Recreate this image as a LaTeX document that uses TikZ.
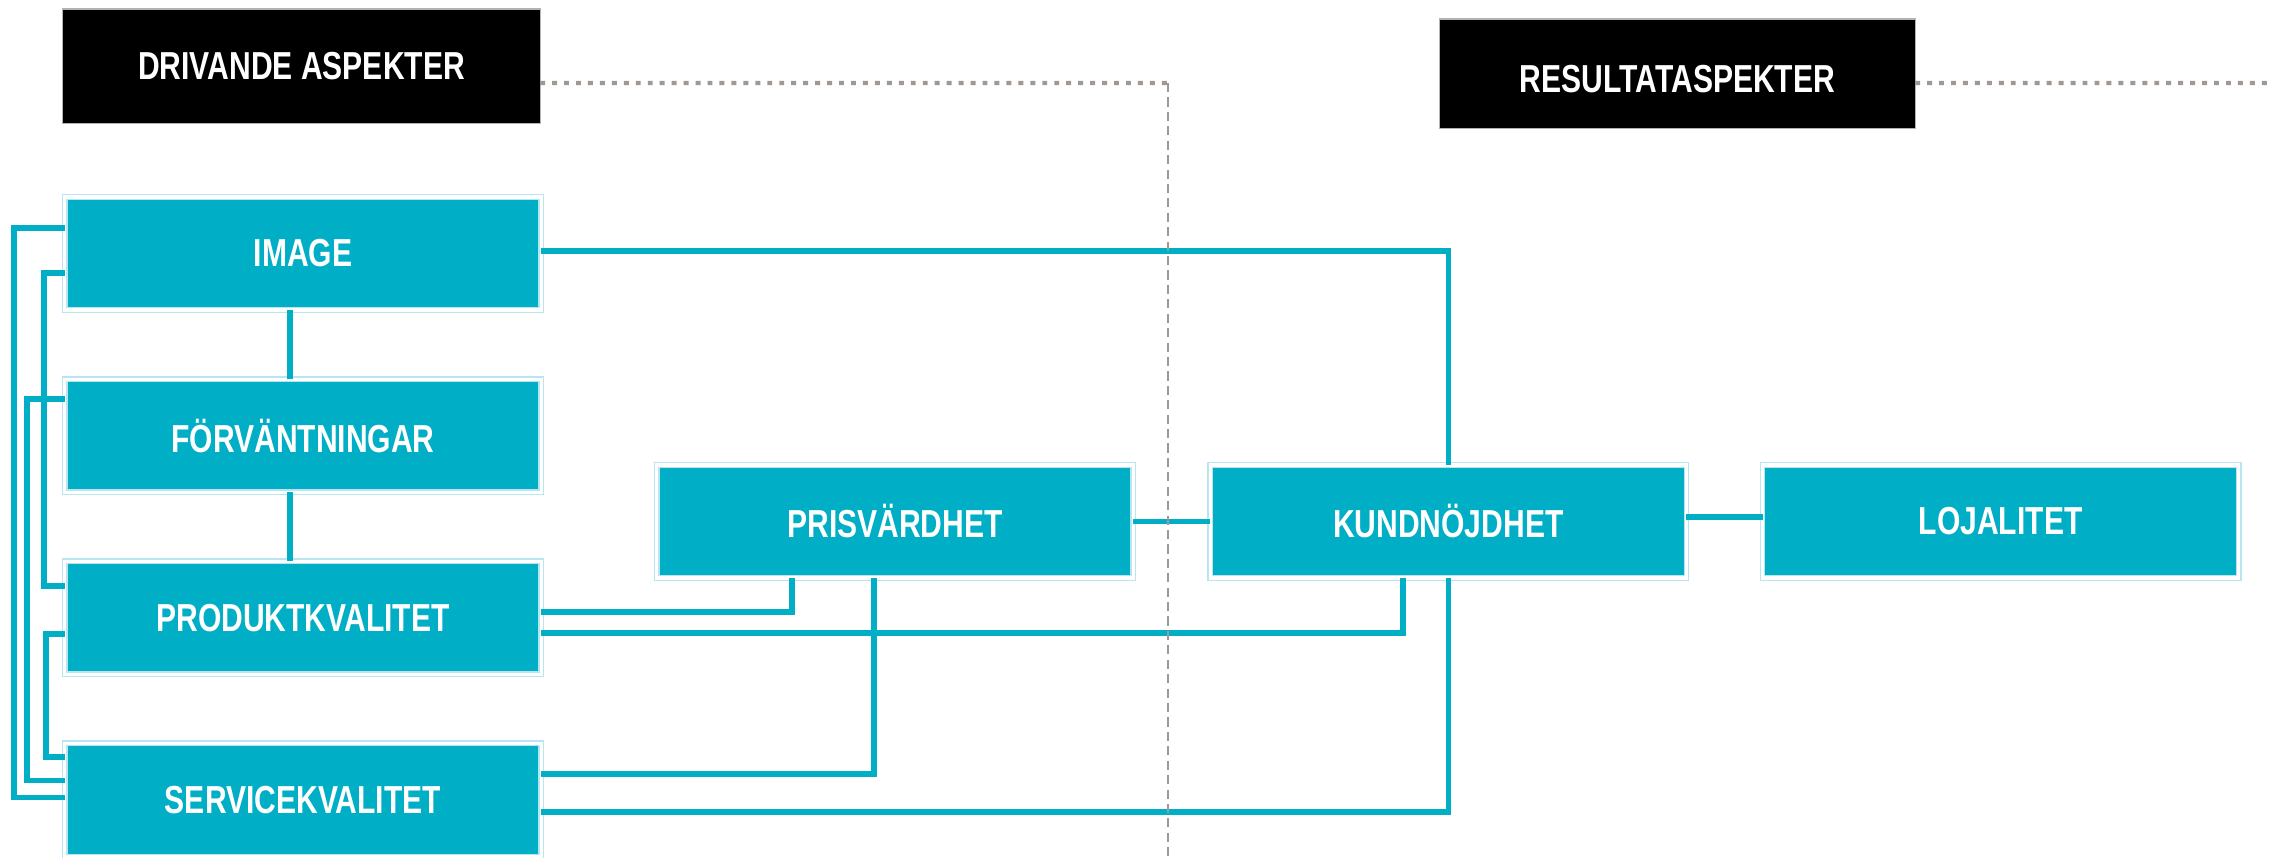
\documentclass[tikz,border=0pt]{standalone}
\usepackage{fontspec}
\newfontfamily\condsans{Liberation Sans}[FakeStretch=0.77]
\usepackage{tikz}
\usetikzlibrary{positioning}

\definecolor{boxteal}{RGB}{0,174,198}
\definecolor{boxedge}{RGB}{185,230,238}
\definecolor{guidegrey}{RGB}{160,152,146}

\begin{document}
\begin{tikzpicture}[x=0.01cm,y=-0.01cm,node distance=0.69cm,
  factor/.style={fill=boxteal,draw=boxedge,double=white,double distance=0.9pt,
    line width=0.35pt,minimum width=4.76cm,minimum height=1.13cm,inner sep=0pt,
    outer sep=0pt,text=white,font=\condsans\bfseries\fontsize{11.1}{13}\selectfont},
  header/.style={fill=black,draw=gray!60,line width=0.3pt,minimum width=4.77cm,
    minimum height=1.14cm,inner sep=0pt,outer sep=0pt,text=white,
    font=\condsans\bfseries\fontsize{11.1}{13}\selectfont},
  link/.style={draw=boxteal,line width=1.6pt},
  dotline/.style={draw=guidegrey,line width=1.2pt,dash pattern=on 1.4pt off 2pt},
  dashline/.style={draw=guidegrey,line width=0.7pt,dash pattern=on 2.6pt off 1.5pt}]
  \useasboundingbox (0,0) rectangle (2272,857);

  % headings
  \node[header] (drive) at (301.5,66) {DRIVANDE ASPEKTER};
  \node[header,minimum width=4.75cm,minimum height=1.09cm] (result) at (1677.5,73.5)
    {\raisebox{-1.5pt}[\height][\depth]{RESULTATASPEKTER}};

  % factors
  \node[factor] (image) at (303,253.5) {IMAGE};
  \node[factor] (expect) [below=of image] {FÖRVÄNTNINGAR};
  \node[factor] (prod) [below=of expect] {PRODUKTKVALITET};
  \node[factor] (serv) [below=of prod] {SERVICEKVALITET};
  \node[factor] (value) at (895,521.5) {PRISVÄRDHET};
  \node[factor] (satisf) [right=0.77cm of value] {KUNDNÖJDHET};
  \node[factor] (loyal) [right=0.76cm of satisf] {LOJALITET};

  \draw[link] ([xshift=-0.13cm]image.south) -- ([xshift=-0.13cm]expect.north);
  \draw[link] ([xshift=-0.13cm]expect.south) -- ([xshift=-0.13cm]prod.north);
  \draw[link] (value.east) -- (satisf.west);
  \draw[link] ([yshift=0.045cm]satisf.east) -- ([yshift=0.045cm]loyal.west);
  \draw[link] ([yshift=0.025cm]image.east) -| (satisf.north);
  \draw[link] ([yshift=0.055cm]prod.east) -| ([xshift=-1.03cm]value.south);
  \draw[link] ([yshift=-0.155cm]prod.east) -| ([xshift=-0.455cm]satisf.south);
  \draw[link] ([yshift=0.26cm]serv.east) -| ([xshift=-0.21cm]value.south);
  \draw[link] ([yshift=-0.12cm]serv.east) -| (satisf.south);
  % brackets on the left
  \draw[link] ([yshift=0.255cm]image.west) -- ++(-0.51cm,0) |- ([yshift=0.025cm]serv.west);
  \draw[link] ([yshift=-0.195cm]image.west) -- ++(-0.21cm,0) |- ([yshift=0.315cm]prod.west);
  \draw[link] ([yshift=0.365cm]expect.west) -- ++(-0.38cm,0) |- ([yshift=0.195cm]serv.west);
  \draw[link] ([yshift=-0.165cm]prod.west) -- ++(-0.19cm,0) |- ([yshift=0.425cm]serv.west);

  % guide lines
  \coordinate (split) at (1168,83);
  \coordinate (splitend) at (1168,857);
  \coordinate (resultend) at (2272,83);
  \draw[dotline] ([yshift=-0.17cm]drive.east) -- (split);
  \draw[dashline] (split) -- (splitend);
  \draw[dotline] ([yshift=-0.095cm]result.east) -- (resultend);
\end{tikzpicture}
\end{document}
